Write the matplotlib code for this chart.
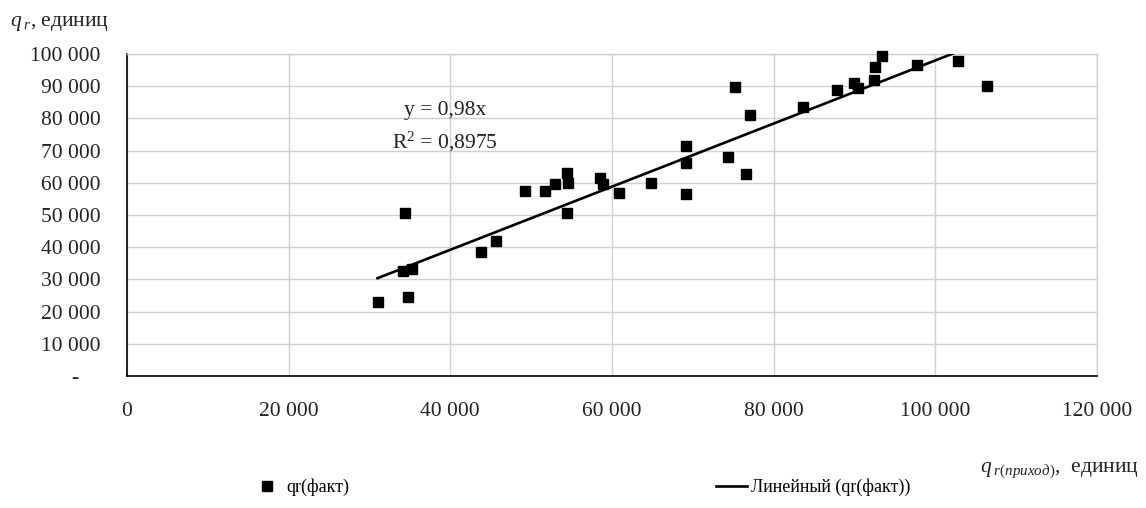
import matplotlib
matplotlib.use("Agg")
import matplotlib.pyplot as plt
from matplotlib.lines import Line2D
import numpy as np

plt.rcParams['font.family'] = ['Liberation Serif', 'DejaVu Serif']
plt.rcParams['mathtext.fontset'] = 'custom'
plt.rcParams['mathtext.rm'] = 'Liberation Serif'
plt.rcParams['mathtext.it'] = 'Liberation Serif:italic'

# data (units)
qr_prihod = [31000, 34400, 34200, 35300, 34800, 43800, 45600, 49300, 51700, 52900,
             54400, 54500, 54400, 58500, 58900, 60900, 64800, 69100, 69200, 69200,
             74300, 75200, 76600, 77100, 83600, 87800, 90000, 90400, 92400, 92600,
             93400, 97700, 102800, 106400]
qr_fact = [23100, 50600, 32700, 33100, 24400, 38600, 42000, 57500, 57500, 59600,
           63100, 60000, 50600, 61500, 59600, 56700, 60000, 71500, 66100, 56600,
           68100, 89700, 62600, 81100, 83600, 88800, 91100, 89300, 91900, 96100,
           99500, 96600, 97800, 90100]
trend_slope = 0.98
r_squared = 0.8975
x_ticks = [0, 20000, 40000, 60000, 80000, 100000, 120000]
y_ticks = [0, 10000, 20000, 30000, 40000, 50000, 60000, 70000, 80000, 90000, 100000]
series_label = 'qr(факт)'
trend_label = 'Линейный (qr(факт))'

FS = 15.5
GRID = '#d0d0d0'

fig = plt.figure(figsize=(11.46, 5.08), dpi=100)
ax = fig.add_axes([0.1108, 0.2598, 0.8464, 0.6339])

x = np.array(qr_prihod, dtype=float)
y = np.array(qr_fact, dtype=float)

ax.plot(x, y, linestyle='none', marker='s', ms=7.6, color='black', zorder=4, clip_on=False)
xt = np.array([x.min(), x.max()])
ax.plot(xt, trend_slope * xt, color='black', lw=1.9, zorder=3)

ax.set_xlim(0, 120000)
ax.set_ylim(0, 100000)
ax.set_xticks(x_ticks)
ax.set_yticks(y_ticks)
ax.set_xticklabels([f"{v:,.0f}".replace(',', ' ') for v in x_ticks], fontsize=FS)
ax.set_yticklabels(['-    ' if v == 0 else f"{v:,.0f}".replace(',', ' ') for v in y_ticks], fontsize=FS)
ax.tick_params(axis='both', length=0, colors='#222222')
ax.tick_params(axis='y', pad=19)
ax.tick_params(axis='x', pad=19)
ax.grid(True, color=GRID, lw=1.0)
ax.set_axisbelow(True)
for s in ['top', 'right']:
    ax.spines[s].set_color(GRID)
    ax.spines[s].set_linewidth(1.0)
for s in ['left', 'bottom']:
    ax.spines[s].set_color('black')
    ax.spines[s].set_linewidth(1.2)

ax.text(39300, 82500, f"y = {str(trend_slope).replace('.', ',')}x", fontsize=FS,
        ha='center', va='center', color='#222222')
ax.text(39300, 72700, "R$^{2}$ = " + str(r_squared).replace('.', ','), fontsize=FS,
        ha='center', va='center', color='#222222')

fig.text(0.0087, 0.949, r'$q_{\;r}$, единиц', fontsize=FS, ha='left', va='baseline', color='#222222')
fig.text(0.855, 0.072, r'$q_{\;r(приход)}$,  единиц', fontsize=FS, ha='left', va='baseline', color='#222222')

handles = [Line2D([], [], linestyle='none', marker='s', ms=7.6, color='black'),
           Line2D([], [], color='black', lw=1.9)]
fig.legend(handles, [series_label, trend_label], loc='center left',
           bbox_to_anchor=(0.219, 0.04), ncol=2, frameon=False, fontsize=13,
           handlelength=1.75, handletextpad=0.2, columnspacing=20.3,
           borderpad=0, borderaxespad=0)

fig.savefig('out.png', dpi=100)
